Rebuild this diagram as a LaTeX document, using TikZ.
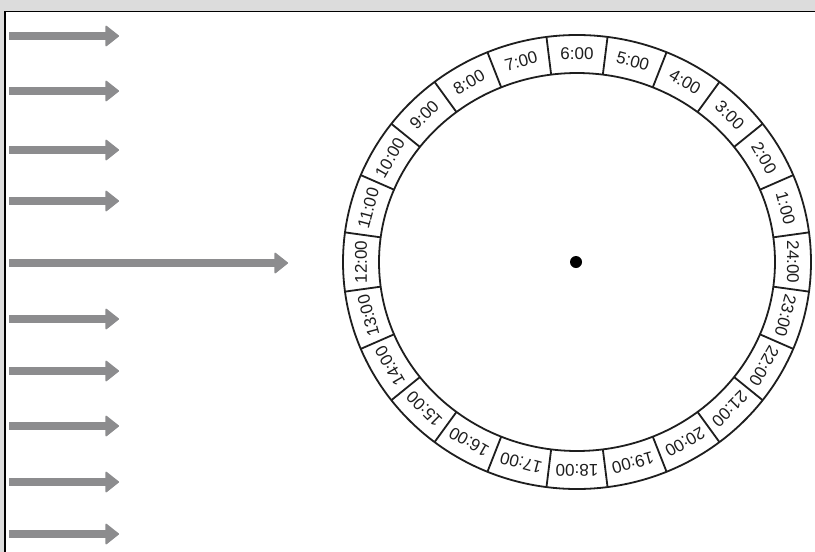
\documentclass[tikz,border=0pt]{standalone}
\usepackage{fontspec}
\setmainfont{Liberation Sans}
\usetikzlibrary{arrows.meta}
\definecolor{framegray}{HTML}{DCDCDC}
\definecolor{arrowgray}{HTML}{8C8C8E}
\definecolor{ink}{HTML}{1E1E1E}
\begin{document}
\begin{tikzpicture}[x=1pt,y=-1pt,
  garrow/.style={draw=arrowgray, line width=8pt,
    -{Triangle[width=22pt,length=14pt,line width=1.5pt,round]}},
  ringline/.style={draw=ink, line width=1.8pt},
  hourlabel/.style={font=\fontsize{17}{17}\selectfont, text=ink, inner sep=0pt}]
\useasboundingbox (0,0) rectangle (815,552);
\fill[framegray] (0,0) rectangle (815,552);
\fill[white] (5,11.5) rectangle (815,552);
\draw[line width=1.5pt] (815,11.5) -- (5,11.5) -- (5,552);
% arrows
\foreach \yy [count=\i] in {36,91,150,201,319,371,426,482,534} {
  \coordinate (s\i) at (9,\yy);
  \coordinate (e\i) at (119,\yy);
  \draw[garrow] (s\i) -- (e\i);
}
\coordinate (sL) at (9,263);
\coordinate (eL) at (288,263);
\draw[garrow] (sL) -- (eL);
% clock ring
\def\cx{577}
\def\cy{262}
\draw[ringline] (\cx,\cy) ellipse [x radius=234pt, y radius=227pt];
\draw[ringline] (\cx,\cy) ellipse [x radius=198pt, y radius=189pt];
\foreach \k in {0,...,23} {
  \pgfmathsetmacro\a{\k*15+7.5}
  \draw[ringline] ({\cx+198*cos(\a)},{\cy-189*sin(\a)}) -- ({\cx+234*cos(\a)},{\cy-227*sin(\a)});
}
\foreach \h/\lab in {0/24,1/1,2/2,3/3,4/4,5/5,6/6,7/7,8/8,9/9,10/10,11/11,12/12,13/13,14/14,15/15,16/16,17/17,18/18,19/19,20/20,21/21,22/22,23/23} {
  \pgfmathsetmacro\a{\h*15}
  \node[hourlabel, rotate=\a-90] (l\h) at ({\cx+216*cos(\a)},{\cy-208*sin(\a)}) {\lab:00};
}
\node[circle, fill=black, minimum size=12pt, inner sep=0pt] (hub) at (576,262) {};
\end{tikzpicture}
\end{document}
